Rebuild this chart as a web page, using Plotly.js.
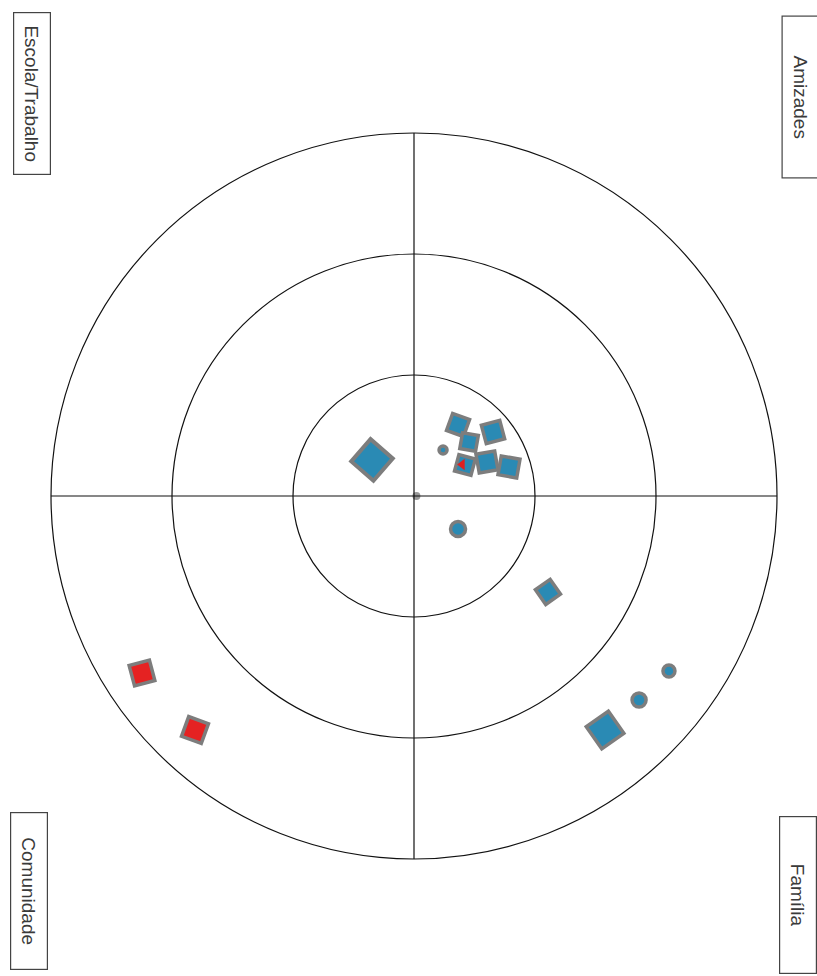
<!DOCTYPE html>
<html><head><meta charset="utf-8">
<script src="https://cdn.plot.ly/plotly-3.0.1.min.js"></script>
<style>html,body{margin:0;padding:0;background:#fff}#c{width:817px;height:976px}</style>
</head><body><div id="c"></div>
<script>
// Network map: centre = self, rings 1..3 (close -> distant)
const ringRadii = [1, 2, 3];
const quadrantLabels = ["Escola/Trabalho", "Amizades", "Comunidade", "Família"];

// blue squares
const sqX = [0.364, 0.653, 0.455, 0.421, 0.603, 0.785, 1.107, 1.579];
const sqY = [0.587, 0.529, 0.446, 0.256, 0.281, 0.240, -0.793, -1.934];
const sqAngle = [20, -15, 10, 15, -10, 10, -35, 55];
const sqSize = [18, 19, 16, 17, 19, 19, 18, 27];
// blue diamond
const diaX = [-0.347];
const diaY = [0.298];
// blue circles
const circX = [0.240, 0.364, 2.107, 1.860];
const circY = [0.380, -0.273, -1.446, -1.686];
const circSize = [8, 15, 12, 14];
// red squares
const redX = [-2.248, -1.810];
const redY = [-1.463, -1.934];
const redAngle = [-15, 20];
// red detail on square
const redMarkX = [0.398];
const redMarkY = [0.260];
// self
const selfX = [0.02];
const selfY = [0.0];

const blue = "#2a8ab4", outline = "#7d7d7d";
const traces = [
  {x: selfX, y: selfY, type: "scatter", mode: "markers", hoverinfo: "skip",
   marker: {symbol: "circle", size: 8, color: "#999", opacity: 1, line: {width: 0}}},
  {x: diaX, y: diaY, type: "scatter", mode: "markers",
   marker: {symbol: "diamond", size: 32, color: blue, opacity: 1, angle: -4, line: {color: outline, width: 4}}},
  {x: sqX, y: sqY, type: "scatter", mode: "markers",
   marker: {symbol: "square", size: sqSize, color: blue, opacity: 1, angle: sqAngle, line: {color: outline, width: 3.5}}},
  {x: redMarkX, y: redMarkY, type: "scatter", mode: "markers",
   marker: {symbol: "triangle-left", size: 10, color: "#e02020", opacity: 1, line: {width: 0}}},
  {x: circX, y: circY, type: "scatter", mode: "markers",
   marker: {symbol: "circle", size: circSize, color: blue, opacity: 1, line: {color: outline, width: 3.5}}},
  {x: redX, y: redY, type: "scatter", mode: "markers",
   marker: {symbol: "square", size: 21, color: "#e52222", opacity: 1, angle: redAngle, line: {color: outline, width: 3.5}}}
];

const shapes = ringRadii.map(r => ({type: "circle", xref: "x", yref: "y",
  x0: -r, x1: r, y0: -r, y1: r, line: {color: "#111", width: 1.2}}));
const R = ringRadii[ringRadii.length - 1];
shapes.push({type: "line", xref: "x", yref: "y", x0: -R, x1: R, y0: 0, y1: 0, line: {color: "#111", width: 1.2}});
shapes.push({type: "line", xref: "x", yref: "y", x0: 0, x1: 0, y0: -R, y1: R, line: {color: "#111", width: 1.2}});

const labelPos = [[31.5, 93.5], [801, 96.5], [29, 891], [798, 895]];
const annotations = quadrantLabels.map((t, i) => ({
  text: t, xref: "paper", yref: "paper",
  x: labelPos[i][0] / 817, y: 1 - labelPos[i][1] / 976,
  xanchor: "center", yanchor: "middle", showarrow: false, textangle: 90,
  width: i >= 2 ? 154 : 159, height: 34, bordercolor: "#444", borderwidth: 1.2,
  font: {family: "Liberation Sans, Arial, sans-serif", size: 19, color: "#3a3a3a"}
}));

const unit = 121;
const layout = {
  width: 817, height: 976, margin: {l: 0, r: 0, t: 0, b: 0},
  paper_bgcolor: "#fff", plot_bgcolor: "#fff", showlegend: false,
  xaxis: {range: [-414 / unit, (817 - 414) / unit], visible: false, fixedrange: true},
  yaxis: {range: [-(976 - 496) / unit, 496 / unit], visible: false, fixedrange: true},
  shapes: shapes, annotations: annotations
};
Plotly.newPlot("c", traces, layout, {staticPlot: true});
</script></body></html>
